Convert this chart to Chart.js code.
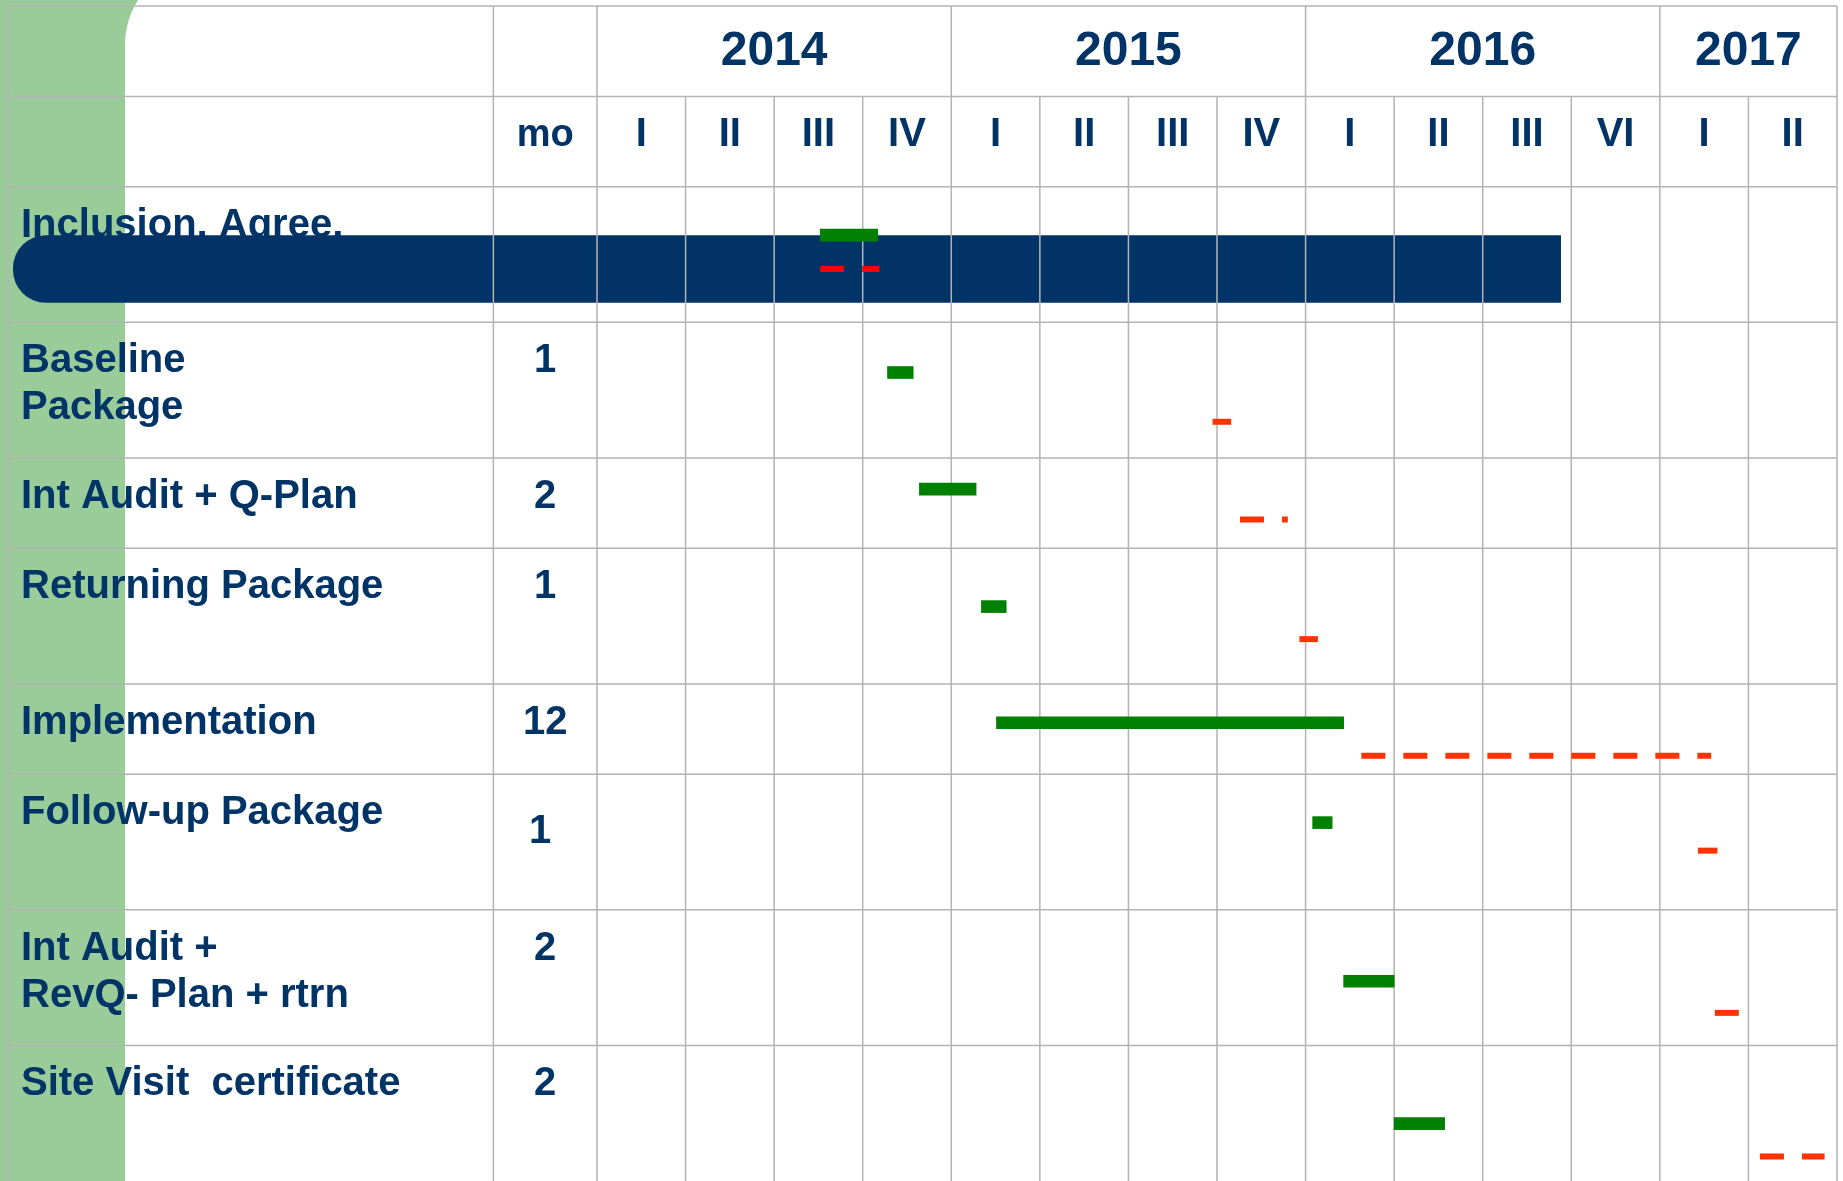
<!doctype html>
<html lang="en">
<head>
<meta charset="utf-8">
<title>Project timeline 2014 - 2017</title>
<style>
  html, body { margin: 0; padding: 0; background: #fff; }
  canvas { display: block; }
</style>
</head>
<body>
<canvas id="myChart" width="1843" height="1181"></canvas>
<script src="https://cdn.jsdelivr.net/npm/chart.js/dist/chart.umd.min.js"></script>
<script>
// header
const years = ['2014', '2015', '2016', '2017'];
const quartersPerYear = [4, 4, 4, 2];
const quarterLabels = ['I', 'II', 'III', 'IV', 'I', 'II', 'III', 'IV', 'I', 'II', 'III', 'VI', 'I', 'II'];

// one row per task, with its duration in months
const tasks = [
  ['Inclusion, Agree,'],
  ['Baseline', 'Package'],
  ['Int Audit + Q-Plan'],
  ['Returning Package'],
  ['Implementation'],
  ['Follow-up Package'],
  ['Int Audit +', 'RevQ- Plan + rtrn'],
  ['Site Visit  certificate']
];
const months = ['', '1', '2', '1', '12', '1', '2', '2'];

// planned (green) and actual (red dashed) spans, in quarters counted from 2014 Q1
const planStart = [2.52, 3.28, 3.64, 4.34, 4.51, 8.08, 8.43, 9.00];
const planEnd   = [3.17, 3.57, 4.28, 4.62, 8.43, 8.30, 9.00, 9.57];
const planLane  = [5.07, 8.11, 10.69, 13.29, 15.86, 18.07, 21.58, 24.73];

const actualStart = [2.52, 6.95, 7.26, 7.93, 8.63, 12.43, 12.62, 13.13];
const actualEnd   = [3.19, 7.16, 7.80, 8.14, 12.58, 12.65, 12.90, 13.86];
const actualLane  = [5.82, 9.20, 11.36, 14.01, 16.59, 18.69, 22.28, 25.46];

// dark banner lying over the first row
const bannerSpan = [-6.59, 10.88];
const bannerLane = 5.82;

// table layout (half-row units on y, quarter widths on x)
const headRows = 4;
const rowSpans = [3, 3, 2, 3, 2, 3, 3, 3];
const xMin = -6.65;
const moEdge = -1.17;
const totalQuarters = quarterLabels.length;

const navy = '#003366';
const font = '"Liberation Sans", Arial, sans-serif';

function rowTops() {
  let t = headRows;
  return rowSpans.map(s => { const top = t; t += s; return top; });
}

function text(ctx, str, x, y, size, align) {
  ctx.font = 'bold ' + size + 'px ' + font;
  ctx.textAlign = align;
  ctx.textBaseline = 'alphabetic';
  ctx.fillText(str, x, y);
}

const tablePlugin = {
  id: 'table',
  beforeDraw(chart) {
    const {ctx, width, height} = chart;
    ctx.save();
    ctx.fillStyle = '#fff';
    ctx.fillRect(0, 0, width, height);
    // green strip with the white panel's rounded corner
    ctx.fillStyle = '#99cc99';
    ctx.fillRect(0, 0, 260, height);
    ctx.fillStyle = '#fff';
    ctx.beginPath();
    ctx.moveTo(125, 45);
    ctx.arcTo(125, -39, 209, -39, 84);
    ctx.lineTo(width, -39);
    ctx.lineTo(width, height);
    ctx.lineTo(125, height);
    ctx.closePath();
    ctx.fill();
    ctx.restore();
  },
  beforeDatasetsDraw(chart) {
    const {ctx} = chart;
    const xs = chart.scales.x, ys = chart.scales.y;
    ctx.save();
    ctx.fillStyle = navy;
    // years
    let q = 0;
    years.forEach((y, i) => {
      const n = quartersPerYear[i];
      text(ctx, y, xs.getPixelForValue(q + n / 2), ys.getPixelForValue(0) + 59, 48, 'center');
      q += n;
    });
    // quarters + mo
    const qBase = ys.getPixelForValue(2) + 50;
    quarterLabels.forEach((l, i) => {
      text(ctx, l, xs.getPixelForValue(i + 0.5), qBase, 40, 'center');
    });
    const moX = xs.getPixelForValue(moEdge / 2);
    text(ctx, 'mo', moX, qBase, 38, 'center');
    // task rows
    const labelX = xs.getPixelForValue(xMin) + 13;
    rowTops().forEach((top, r) => {
      const base = ys.getPixelForValue(top) + 50;
      tasks[r].forEach((line, j) => text(ctx, line, labelX, base + j * 47, 40, 'left'));
      text(ctx, months[r], moX + (r === 5 ? -5 : 0), base + (r === 5 ? 19 : 0), 40, 'center');
    });
    ctx.restore();
  },
  afterDatasetDraw(chart, args) {
    if (args.index !== 0) return; // grid goes over the banner, under the bars
    const {ctx, chartArea} = chart;
    const xs = chart.scales.x, ys = chart.scales.y;
    const top = ys.getPixelForValue(0), bottom = chartArea.bottom;
    const qTop = ys.getPixelForValue(2);
    ctx.save();
    ctx.strokeStyle = '#b3b3b3';
    ctx.lineWidth = 1.5;
    ctx.beginPath();
    const yearEdges = [0];
    quartersPerYear.reduce((a, n) => { yearEdges.push(a + n); return a + n; }, 0);
    [xMin, moEdge].forEach(v => {
      const x = xs.getPixelForValue(v);
      ctx.moveTo(x, top); ctx.lineTo(x, bottom);
    });
    for (let i = 0; i <= totalQuarters; i++) {
      const x = xs.getPixelForValue(i);
      ctx.moveTo(x, yearEdges.includes(i) ? top : qTop);
      ctx.lineTo(x, bottom);
    }
    // the table runs past the bottom edge, so no closing line there
    const hLines = [0, 2].concat(rowTops());
    hLines.forEach(v => {
      const y = ys.getPixelForValue(v);
      ctx.moveTo(chartArea.left, y); ctx.lineTo(chartArea.right, y);
    });
    ctx.stroke();
    ctx.restore();
  }
};

const datasets = [
  {
    type: 'bar',
    label: 'banner',
    data: [{x: bannerSpan, y: bannerLane}],
    backgroundColor: '#023366',
    barThickness: 67,
    borderRadius: {topLeft: 33, bottomLeft: 33, topRight: 0, bottomRight: 0},
    borderSkipped: false,
    grouped: false,
    order: 3
  },
  {
    type: 'bar',
    label: 'plan',
    data: planStart.map((s, i) => ({x: [s, planEnd[i]], y: planLane[i]})),
    backgroundColor: '#008000',
    barThickness: 12,
    grouped: false,
    order: 2
  }
].concat(actualStart.map((s, i) => ({
  type: 'line',
  label: 'actual ' + (i + 1),
  data: [{x: s, y: actualLane[i]}, {x: actualEnd[i], y: actualLane[i]}],
  borderColor: i === 0 ? '#ff0000' : '#ff3300',
  borderWidth: 6,
  borderDash: [24, 18],
  borderCapStyle: 'butt',
  pointRadius: 0,
  fill: false,
  order: 1
})));

const myChart = new Chart(document.getElementById('myChart'), {
  type: 'bar',
  data: {datasets},
  options: {
    indexAxis: 'y',
    responsive: false,
    animation: false,
    layout: {padding: {left: 8, right: 6, top: 6, bottom: 0}},
    plugins: {legend: {display: false}, tooltip: {enabled: false}},
    scales: {
      x: {type: 'linear', min: xMin, max: totalQuarters, offset: false, display: false},
      y: {type: 'linear', min: 0, max: headRows + rowSpans.reduce((a, b) => a + b, 0), reverse: true, offset: false, display: false}
    }
  },
  plugins: [tablePlugin]
});
</script>
</body>
</html>
